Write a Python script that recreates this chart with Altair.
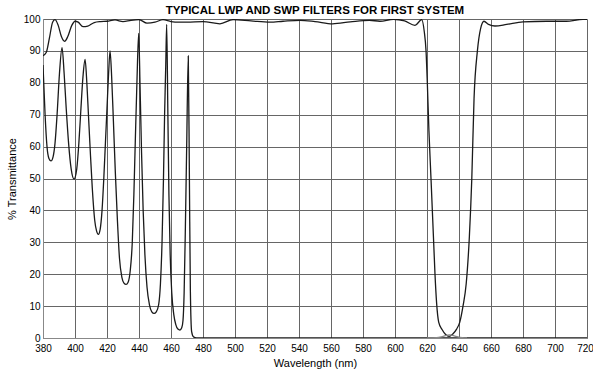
import altair as alt
import pandas as pd

# Notch filter (top curve with the 620-655 nm stop band)
notch_wl = [380, 382, 384, 386, 387.5, 389.5, 391.5, 393.5, 395.5, 398, 400, 402, 405, 408,
            412, 416, 420, 425, 430, 435, 440, 445, 450, 455, 460, 465, 470, 480,
            490.6, 498.8, 510, 521.9, 530, 540.6, 550, 561, 572, 584, 590.6, 599, 606,
            612.5, 616.7, 618.3, 619.4, 620.2, 621.2, 622.5, 624, 625, 626, 627.3, 629.5, 631.5,
            633.8, 636, 638.5, 640.5, 642.5, 644.5, 646.5, 648, 649.4, 651.5, 653.5, 655.6,
            658.5, 662.5, 669.8, 680, 694.8, 707, 717.5, 720]
notch_t = [88.5, 89.5, 94, 99, 99.8, 98, 94.5, 93.0, 94.5, 98, 99.3, 99.0, 97.6, 97.8,
           98.9, 99.2, 99.3, 99.7, 99.2, 99.6, 99.8, 98.7, 99.0, 99.8, 99.2, 99.0, 99.0, 99.2,
           98.5, 99.8, 99.4, 99.0, 99.3, 99.6, 99.2, 98.5, 99.1, 99.6, 99.3, 99.9, 99.4,
           98.0, 99.8, 96, 90, 80, 65, 50, 32, 20, 11, 5, 2.6, 1.2,
           0.5, 1.2, 2.8, 5, 10, 17, 32, 50, 75, 90, 97, 99.3,
           98.3, 97.8, 98.3, 99.1, 99.3, 99.3, 99.9, 99.9]

# Short-wave-pass filter (oscillating curve, cut-off near 473 nm)
swp_wl = [380, 381.3, 382.5, 383.7, 385, 386.3, 387.5, 388.8, 390.3, 391.9, 393.2, 394.5, 396,
          397.6, 399.4, 401.1, 402.4, 403.6, 405, 406.3, 407.4, 408.4, 409.5, 410.8, 412.3,
          413.5, 414.6, 415.7, 416.9, 418, 419, 420, 421, 421.9, 422.9, 424, 425.2, 426.5,
          427.8, 429.3, 430.6, 431.9, 433.2, 434.5, 435.8, 436.8, 437.7, 438.7, 439.8, 440.7,
          441.6, 442.6, 443.7, 445, 446.5, 448, 449.4, 450.8, 452.3, 453.4, 454.4, 455.3, 456,
          456.7, 457.3, 458, 458.7, 459.5, 460.5, 461.7, 463, 464.3, 465.6, 466.7, 467.5, 468.2,
          469, 469.8, 470.8, 471.5, 472.1, 472.9, 474, 476, 720]
swp_t = [85.6, 70, 60, 56.3, 55.5, 56.8, 61, 70, 83, 91, 83, 72, 61,
         53, 49.8, 53, 61, 71, 82, 87.3, 80, 70, 59, 47, 37,
         33.5, 32.5, 34, 40, 50, 61, 72, 83, 90, 82, 68, 52, 37,
         25, 19, 17.2, 16.8, 17.5, 21, 30, 45, 62, 80, 95.5, 78,
         58, 40, 26, 16, 10.5, 8.2, 7.7, 8.2, 10.5, 17, 30, 50, 70,
         85, 98.3, 72, 45, 26, 14, 7.5, 4.2, 2.8, 2.5, 3.2, 5.5, 14,
         35, 60, 88.4, 50, 15, 2, 0.4, 0, 0]

# Faint trace at the bottom of the stop band
base_wl = [620, 626, 630, 634, 638, 642, 645]
base_t = [0, 0.1, 0.5, 1.0, 0.5, 0.1, 0]

x_ticks = list(range(380, 721, 20))
y_ticks = list(range(0, 101, 10))

df = pd.concat([
    pd.DataFrame({"wl": notch_wl, "t": notch_t, "series": "Notch"}),
    pd.DataFrame({"wl": swp_wl, "t": swp_t, "series": "SWP"}),
    pd.DataFrame({"wl": base_wl, "t": base_t, "series": "Base"}),
])

FONT = "Liberation Sans"

chart = alt.Chart(df).mark_line(
    interpolate="monotone", strokeWidth=1.3, clip=True
).encode(
    x=alt.X("wl:Q",
            scale=alt.Scale(domain=[380, 720], nice=False, zero=False),
            axis=alt.Axis(values=x_ticks, title="Wavelength (nm)", ticks=False, grid=True,
                          gridColor="#666", gridWidth=1, gridOpacity=1,
                          labelPadding=5, titlePadding=4, labelFlush=False,
                          labelOffset=alt.ExprRef(expr="datum.value == 720 ? -2 : 0"),
                          titleFontWeight="normal")),
    y=alt.Y("t:Q",
            scale=alt.Scale(domain=[0, 100], nice=False),
            axis=alt.Axis(values=y_ticks, title="% Transmittance", ticks=False, grid=True,
                          gridColor="#666", gridWidth=1, gridOpacity=1,
                          labelPadding=3, titlePadding=6, titleFontWeight="normal")),
    color=alt.Color("series:N",
                    scale=alt.Scale(domain=["Notch", "SWP", "Base"],
                                    range=["#1a1a1a", "#1a1a1a", "#888888"]),
                    legend=None),
    detail="series:N",
).properties(
    width=544,
    height=319,
    title=alt.Title("TYPICAL LWP AND SWP FILTERS FOR FIRST SYSTEM",
                    font=FONT, fontSize=11.5, fontWeight="bold", color="#000",
                    anchor="middle", offset=3, dy=5),
    padding={"left": 43, "top": 19, "right": 6, "bottom": 34},
    autosize=alt.AutoSizeParams(type="none"),
).configure_axis(
    labelFont=FONT, labelFontSize=9, labelColor="#000",
    titleFont=FONT, titleFontSize=10, titleColor="#000",
    domainColor="#222", domainWidth=1,
).configure_view(
    stroke="#555", strokeWidth=1
).configure(background="white")

chart.save("out.html", embed_options={"renderer": "svg", "actions": False})
